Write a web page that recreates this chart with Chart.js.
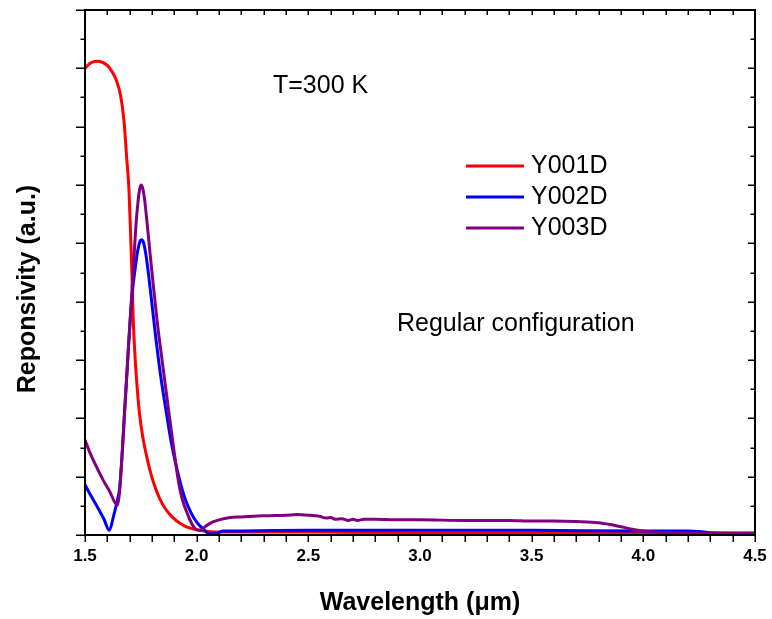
<!DOCTYPE html>
<html><head><meta charset="utf-8">
<script src="https://cdn.jsdelivr.net/npm/chart.js@4/dist/chart.umd.min.js"></script>
<style>html,body{margin:0;padding:0;background:#fff}canvas{display:block}</style>
</head><body>
<canvas id="c" width="772" height="619"></canvas>
<script>
// ---- data ----
const seriesNames = ['Y001D', 'Y002D', 'Y003D'];
const seriesColors = ['#ff0000', '#0000ff', '#800080'];

const y001dWavelength = [1.50,1.52,1.55,1.58,1.60,1.62,1.64,1.66,1.675,1.686,1.697,1.705,1.710,1.716,1.722,1.731,1.743,1.757,1.772,1.79,1.81,1.835,1.86,1.89,1.925,1.96,2.00,2.05,2.10,2.50,3.00,3.50,4.00,4.50];
const y001dValue      = [8.00,8.08,8.12,8.10,8.05,7.95,7.80,7.52,7.08,6.50,5.91,5.06,4.49,3.70,3.20,2.66,2.12,1.72,1.42,1.12,0.86,0.62,0.45,0.31,0.20,0.13,0.09,0.06,0.05,0.05,0.04,0.04,0.03,0.03];

const y002dWavelength = [1.50,1.53,1.56,1.585,1.609,1.627,1.645,1.655,1.668,1.677,1.686,1.695,1.704,1.713,1.724,1.735,1.745,1.754,1.763,1.773,1.785,1.80,1.818,1.838,1.862,1.888,1.922,1.948,1.975,2.00,2.03,2.06,2.09,2.12,2.20,2.50,3.00,3.50,4.00,4.20,4.25,4.30,4.50];
const y002dValue      = [0.86,0.65,0.45,0.27,0.08,0.31,0.60,0.80,1.50,2.10,2.66,3.25,3.78,4.20,4.55,4.85,5.02,5.06,5.00,4.80,4.45,3.95,3.35,2.75,2.15,1.55,0.97,0.62,0.38,0.22,0.10,0.02,0.03,0.07,0.07,0.08,0.08,0.08,0.07,0.07,0.06,0.04,0.03];

const y003dWavelength = [1.50,1.52,1.55,1.58,1.61,1.645,1.655,1.668,1.677,1.686,1.695,1.704,1.712,1.72,1.728,1.737,1.745,1.751,1.758,1.766,1.778,1.792,1.808,1.825,1.845,1.862,1.876,1.895,1.915,1.935,1.958,1.98,2.00,2.015,2.04,2.07,2.10,2.15,2.20,2.30,2.40,2.45,2.50,2.55,2.58,2.60,2.62,2.65,2.68,2.70,2.72,2.75,2.80,2.90,3.00,3.20,3.40,3.50,3.60,3.70,3.80,3.85,3.90,3.95,4.00,4.05,4.10,4.50];
const y003dValue      = [1.63,1.43,1.18,0.95,0.75,0.51,0.75,1.50,2.10,2.66,3.25,3.80,4.30,4.80,5.30,5.70,5.93,6.00,5.95,5.78,5.35,4.80,4.20,3.60,3.00,2.50,2.09,1.55,1.00,0.62,0.37,0.18,0.09,0.08,0.15,0.22,0.26,0.30,0.31,0.33,0.34,0.35,0.34,0.32,0.29,0.30,0.27,0.28,0.25,0.27,0.25,0.27,0.27,0.26,0.26,0.25,0.25,0.24,0.24,0.23,0.21,0.18,0.14,0.10,0.07,0.05,0.04,0.03];

const xLabelValues = [1.5, 2.0, 2.5, 3.0, 3.5, 4.0, 4.5];
const xMin = 1.5, xMax = 4.5, yMin = 0, yMax = 9;
const xTitle = 'Wavelength (\u03bcm)';
const yTitle = 'Reponsivity (a.u.)';
const note1 = 'T=300 K';
const note2 = 'Regular configuration';

// ---- build ----
const FONT = '"Liberation Sans", Arial, sans-serif';
const toPts = (xs, ys) => xs.map((v, i) => ({x: v, y: ys[i]}));
const seriesX = [y001dWavelength, y002dWavelength, y003dWavelength];
const seriesY = [y001dValue, y002dValue, y003dValue];

const datasets = seriesNames.map((n, i) => ({
  label: n,
  data: toPts(seriesX[i], seriesY[i]),
  borderColor: seriesColors[i],
  backgroundColor: seriesColors[i],
  borderWidth: 3,
  pointRadius: 0,
  fill: false,
  cubicInterpolationMode: 'monotone',
  order: 3 - i
}));

const decor = {
  id: 'decor',
  afterDatasetsDraw(chart) {
    const {ctx, chartArea: a, scales: {x, y}} = chart;
    ctx.save();
    ctx.strokeStyle = '#000';
    ctx.lineWidth = 1.5;
    x.ticks.forEach(t => {
      const px = Math.round(x.getPixelForValue(t.value)) + 0.25;
      ctx.beginPath();
      ctx.moveTo(px, a.bottom); ctx.lineTo(px, a.bottom + 7);
      ctx.moveTo(px, a.top); ctx.lineTo(px, a.top + 5);
      ctx.stroke();
    });
    y.ticks.forEach(t => {
      const py = Math.round(y.getPixelForValue(t.value)) + 0.25;
      const major = Math.abs(t.value - Math.round(t.value)) < 1e-6;
      ctx.beginPath();
      ctx.moveTo(a.left, py); ctx.lineTo(a.left - (major ? 9 : 4.5), py);
      ctx.moveTo(a.right, py); ctx.lineTo(a.right - (major ? 7 : 4.5), py);
      ctx.stroke();
    });
    ctx.lineWidth = 2;
    ctx.strokeRect(a.left, a.top, a.right - a.left, a.bottom - a.top);

    ctx.fillStyle = '#000';
    ctx.textBaseline = 'middle';
    ctx.textAlign = 'left';
    ctx.font = '25px ' + FONT;
    ctx.fillText(note1, 273, 86);
    ctx.fillText(note2, 397, 324);

    const ly = [166, 197, 228];
    chart.data.datasets.forEach((d, i) => {
      ctx.strokeStyle = d.borderColor;
      ctx.lineWidth = 3;
      ctx.beginPath();
      ctx.moveTo(466, ly[i]); ctx.lineTo(524, ly[i]);
      ctx.stroke();
      ctx.fillText(d.label, 531, ly[i]);
    });

    ctx.save();
    ctx.translate(28, 289);
    ctx.rotate(-Math.PI / 2);
    ctx.textAlign = 'center';
    ctx.font = 'bold 25px ' + FONT;
    ctx.fillText(yTitle, 0, 0);
    ctx.restore();
    ctx.restore();
  }
};

new Chart(document.getElementById('c'), {
  type: 'line',
  data: {datasets},
  options: {
    responsive: false,
    animation: false,
    devicePixelRatio: 1,
    layout: {padding: {top: 10, right: 17, left: 0, bottom: 0}},
    plugins: {legend: {display: false}, tooltip: {enabled: false}},
    scales: {
      x: {
        type: 'linear', min: xMin, max: xMax,
        grid: {display: false, drawTicks: false, tickLength: 0},
        border: {display: false},
        ticks: {
          stepSize: 0.1, autoSkip: false, maxRotation: 0, minRotation: 0, padding: 11,
          color: '#000', font: {family: FONT, size: 17, weight: 'bold'},
          callback: v => {
            const m = xLabelValues.find(l => Math.abs(l - v) < 1e-6);
            return m === undefined ? '' : m.toFixed(1);
          }
        },
        title: {display: true, text: xTitle, color: '#000', font: {family: FONT, size: 25, weight: 'bold'}, padding: {top: 0, bottom: 1}},
        afterFit: s => { s.height = 84; s.paddingLeft = 0; s.paddingRight = 0; }
      },
      y: {
        type: 'linear', min: yMin, max: yMax,
        grid: {display: false, drawTicks: false, tickLength: 0},
        border: {display: false},
        ticks: {stepSize: 0.5, display: false},
        afterFit: s => { s.width = 85; s.paddingTop = 0; s.paddingBottom = 0; }
      }
    }
  },
  plugins: [decor]
});
</script>
</body></html>
